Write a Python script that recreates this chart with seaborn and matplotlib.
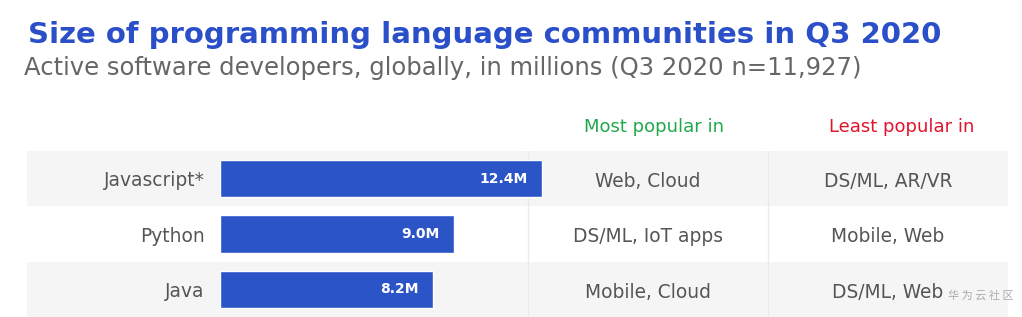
import matplotlib
matplotlib.use("Agg")
import matplotlib.pyplot as plt
import matplotlib.transforms as mtransforms
import seaborn as sns
import pandas as pd

# ---- data ----
languages = ["Javascript*", "Python", "Java"]
developers_m = [12.4, 9.0, 8.2]
value_labels = ["12.4M", "9.0M", "8.2M"]
most_popular = ["Web, Cloud", "DS/ML, IoT apps", "Mobile, Cloud"]
least_popular = ["DS/ML, AR/VR", "Mobile, Web", "DS/ML, Web"]
title = "Size of programming language communities in Q3 2020"
subtitle = "Active software developers, globally, in millions (Q3 2020 n=11,927)"
header_most = "Most popular in"
header_least = "Least popular in"
watermark = "华 为 云 社 区"

sns.set_theme(style="white")
plt.rcParams["font.family"] = ["DejaVu Sans"]

W, H = 1022, 317
fig = plt.figure(figsize=(W / 100, H / 100), dpi=100)

BLUE = "#2b54c6"
GRAY_TXT = "#555555"
BAND = "#f5f5f5"

# axes: from bar start (x=220px) to table right edge (1008px), rows 151..317px
ax_l, ax_r = 220, 1008
ax_t, ax_b = 151, 317
ax = fig.add_axes([ax_l / W, 1 - ax_b / H, (ax_r - ax_l) / W, (ax_b - ax_t) / H])

df = pd.DataFrame({"language": languages, "dev": developers_m})
sns.barplot(data=df, y="language", x="dev", orient="h", color=BLUE,
            width=0.67, saturation=1, ax=ax, zorder=3)

px_per_unit = 25.97
ax.set_xlim(0, (ax_r - ax_l) / px_per_unit)
ax.set_ylim(2.5, -0.5)
for s in ax.spines.values():
    s.set_visible(False)
ax.set_xticks([])
ax.set_xlabel("")
ax.set_ylabel("")
ax.tick_params(axis="y", length=0, pad=11, labelsize=13.4, labelcolor=GRAY_TXT)
for t in ax.get_yticklabels():
    t.set_va("center_baseline")
ax.set_facecolor("none")

# background bands (alternate rows)
band_xmin = -(ax_l - 27) / (ax_r - ax_l)
for i in range(len(languages)):
    if i % 2 == 0:
        ax.axhspan(i - 0.5, i + 0.5, xmin=band_xmin, xmax=1, color=BAND,
                   zorder=0, clip_on=False, lw=0)

# column dividers
for px in (528, 768):
    ax.axvline((px - ax_l) / px_per_unit, color="#ebebeb", lw=1, zorder=1)

# value labels inside bars
for i, (v, lab) in enumerate(zip(developers_m, value_labels)):
    ax.text(v - 14 / px_per_unit, i, lab, ha="right", va="center",
            color="white", fontsize=10, fontweight="bold", zorder=4)

trans = mtransforms.blended_transform_factory(ax.transAxes, ax.transData)
col_most = (648 - ax_l) / (ax_r - ax_l)
col_least = (888 - ax_l) / (ax_r - ax_l)
for i, (m, l) in enumerate(zip(most_popular, least_popular)):
    ax.text(col_most, i + 0.05, m, transform=trans, ha="center", va="center",
            color=GRAY_TXT, fontsize=13.4)
    ax.text(col_least, i + 0.05, l, transform=trans, ha="center", va="center",
            color=GRAY_TXT, fontsize=13.4)

ax.text((654 - ax_l) / (ax_r - ax_l), -0.93, header_most, transform=trans,
        ha="center", va="center", color="#20a84a", fontsize=13, clip_on=False)
ax.text((902 - ax_l) / (ax_r - ax_l), -0.93, header_least, transform=trans,
        ha="center", va="center", color="#e3122b", fontsize=13, clip_on=False)

# title and subtitle
fig.text(28 / W, 1 - 43 / H, title, ha="left", va="baseline",
         color="#2a4fc8", fontsize=21, fontweight="bold")
fig.text(24 / W, 1 - 75 / H, subtitle, ha="left", va="baseline",
         color="#666666", fontsize=17.5)

# watermark
fig.text(1014 / W, 1 - 296 / H, watermark, ha="right", va="center",
         color="#9a9a9a", fontsize=8, alpha=0.8,
         family=["Noto Sans CJK SC", "DejaVu Sans"])

fig.savefig("out.png", dpi=100)
